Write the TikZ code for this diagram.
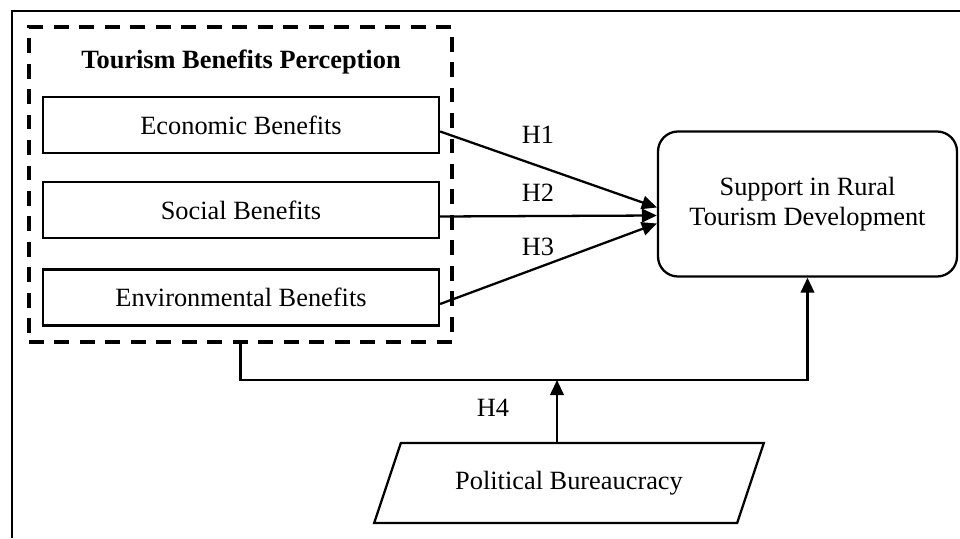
\documentclass[tikz,border=0pt]{standalone}
\usepackage{fontspec}
\setmainfont{Liberation Serif}
\usetikzlibrary{arrows.meta,shapes.geometric}

\begin{document}
\begin{tikzpicture}[
  box/.style={draw, line width=1.3pt, minimum width=7.92cm, minimum height=1.12cm, align=center},
  group/.style={draw, line width=2.2pt, dash pattern=on 8.5pt off 6pt, minimum width=8.46cm, minimum height=6.3cm},
  target/.style={draw, line width=1.3pt, rounded corners=0.4cm, minimum width=5.98cm, minimum height=2.9cm, align=center},
  moderator/.style={draw, line width=1.3pt, trapezium, trapezium left angle=62, trapezium right angle=118, trapezium stretches=true, minimum width=7.8cm, minimum height=1.6cm},
  arrow/.style={-{Triangle[length=0.3cm, width=0.27cm]}, line width=1.3pt},
  frame/.style={line width=1.6pt},
  font=\fontsize{15}{17.3}\selectfont
]
\useasboundingbox (0,0) rectangle (19.2,10.76);
\draw[frame] (0.24,0) -- (0.24,10.54) -- (19.2,10.54);

% Benefit boxes
\node[group] (perception) at (4.81,7.07) {};
\node[font=\fontsize{15}{17.3}\selectfont\bfseries] (title) at (4.82,9.52) {Tourism Benefits Perception};
\node[box] (econ) at (4.82,8.26) {Economic Benefits};
\node[box] (social) at (4.82,6.56) {Social Benefits};
\node[box] (env) at (4.82,4.81) {Environmental Benefits};

% Outcome and moderator
\node[target] (support) at (16.15,6.68) {Support in Rural\\Tourism Development};
\node[moderator] (bureau) at (11.38,1.1) {Political Bureaucracy};
\coordinate (join) at (11.14,3.16);

% Arrows
\draw[arrow] ([yshift=-0.13cm]econ.east) -- ([yshift=-0.07cm]support.west);
\draw[arrow] ([yshift=-0.13cm]social.east) -- ([yshift=-0.23cm]support.west);
\draw[arrow] ([yshift=-0.13cm]env.east) -- ([yshift=-0.39cm]support.west);
\node at (10.76,8.06) {H1};
\node at (10.76,6.90) {H2};
\node at (10.76,5.82) {H3};

\draw[arrow] (perception.south) |- (join) -| (support.south);
\draw[arrow] (join |- bureau.north) -- (join);
\node at (9.86,2.6) {H4};
\end{tikzpicture}
\end{document}
